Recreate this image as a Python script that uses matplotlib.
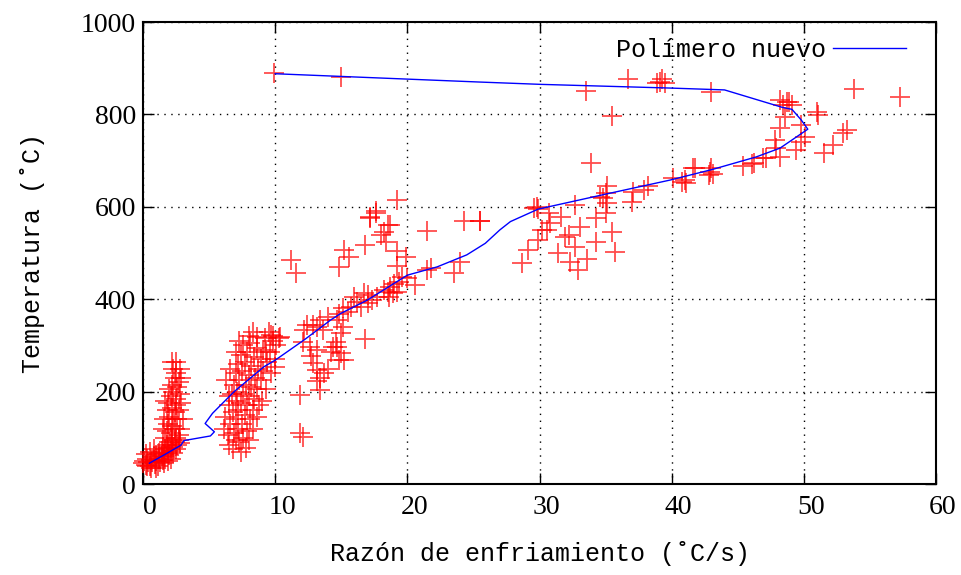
import numpy as np
import matplotlib
matplotlib.use('Agg')
import matplotlib.pyplot as plt
import matplotlib.transforms as mtransforms

# ── Datos ─────────────────────────────────────────────────────────────────────
# curva del polimero nuevo (razon de enfriamiento, temperatura)
line_x = [0.48, 1.6, 2.87, 3.1, 5.1, 5.4, 4.7, 5.26, 6.9, 9.16, 10.0, 12.2, 14.2, 14.95,
          16.97, 20.0, 22.26, 24.5, 25.9, 27.0, 27.8, 29.9, 35.1, 39.9, 43.1, 46.4, 48.2,
          50.3, 49.8, 49.1, 48.4, 44.0, 39.9, 30.1, 25.5, 10.0]
line_y = [45, 63, 84, 94, 104, 113, 131, 153, 200, 254, 268, 312, 355, 369,
          398, 452, 470, 496, 521, 550, 568, 595, 628, 658, 681, 708, 727,
          768, 788, 811, 815, 853, 857, 865, 870, 888]

# mediciones (x, y)
low_band = [(0.0, 45), (0.1, 50), (0.2, 42), (0.3, 55), (0.4, 48), (0.5, 40), (0.6, 52),
            (0.7, 47), (0.8, 58), (0.9, 44), (1.0, 62), (1.0, 50), (1.1, 40), (1.2, 55),
            (1.2, 68), (1.3, 47), (1.4, 60), (1.4, 72), (1.5, 52), (1.5, 80), (1.6, 65),
            (1.6, 45), (1.7, 75), (1.7, 58), (1.8, 85), (1.8, 68), (1.9, 50), (1.9, 78),
            (2.0, 90), (2.0, 62), (2.1, 72), (2.1, 55), (2.2, 85), (2.2, 95), (2.3, 68),
            (2.3, 80), (2.4, 90), (2.5, 75), (2.5, 100), (2.6, 85), (2.7, 95), (2.8, 88),
            (0.2, 65), (0.5, 70), (0.8, 75), (0.3, 38), (0.6, 35), (1.0, 35)]
low_column = [(1.7, 100), (1.8, 115), (1.9, 130), (2.0, 145), (1.8, 160), (2.1, 110),
              (2.2, 125), (2.3, 140), (2.4, 155), (2.5, 170), (1.9, 175), (2.1, 190),
              (2.3, 200), (2.5, 185), (2.7, 160), (2.6, 140), (2.8, 120), (2.7, 105),
              (2.2, 215), (2.4, 230), (2.6, 210), (2.8, 195), (2.9, 175), (2.3, 250),
              (2.5, 240), (2.0, 205), (1.6, 140), (1.7, 180), (2.9, 230), (2.7, 220),
              (2.2, 165), (2.4, 118), (1.5, 120), (3.0, 140), (2.2, 265), (2.5, 265),
              (2.8, 250)]
cluster_8 = [(6.5, 85), (6.8, 75), (7.0, 95), (6.4, 105), (6.9, 110), (7.3, 90), (7.6, 100),
             (7.2, 120), (6.6, 130), (7.0, 140), (7.5, 130), (7.9, 115), (6.8, 155),
             (7.2, 160), (7.7, 150), (8.1, 140), (6.5, 170), (7.0, 180), (7.4, 175),
             (7.9, 170), (8.3, 160), (6.7, 195), (7.1, 200), (7.6, 195), (8.0, 190),
             (8.4, 185), (6.9, 215), (7.3, 225), (7.8, 215), (8.2, 210), (8.6, 205),
             (7.0, 240), (7.5, 245), (8.0, 235), (8.5, 230), (8.9, 225), (7.2, 260),
             (7.7, 265), (8.2, 255), (8.7, 250), (9.1, 245), (7.4, 280), (7.9, 285),
             (8.4, 275), (8.9, 270), (9.4, 265), (7.6, 300), (8.1, 305), (8.6, 295),
             (9.1, 290), (9.6, 285), (8.0, 320), (8.6, 318), (9.2, 315), (9.8, 310),
             (10.1, 300), (9.5, 330), (8.3, 330), (7.0, 285), (6.6, 250), (6.3, 225),
             (6.2, 145), (7.4, 70), (8.0, 95), (8.3, 120), (8.6, 145), (9.0, 180),
             (9.3, 205), (9.7, 240), (10.0, 270), (8.8, 170), (9.3, 285), (7.3, 310),
             (6.5, 190), (6.1, 120), (7.8, 78), (9.8, 320), (10.3, 315)]
band_mid = [(11.2, 485), (11.6, 457), (14.8, 470), (15.2, 506), (15.6, 492), (16.8, 517),
            (17.2, 575), (17.6, 590), (17.2, 579), (17.6, 587), (18.5, 561), (18.7, 561),
            (18.2, 546), (18.0, 539), (18.4, 524), (19.2, 615), (21.5, 548), (24.3, 569),
            (25.5, 569), (19.2, 505), (19.9, 492), (19.2, 472), (21.8, 467), (21.5, 463),
            (23.5, 456), (24.0, 481), (20.6, 431), (20.0, 445), (19.6, 449), (19.4, 438),
            (19.0, 433), (18.7, 427), (19.2, 416), (18.9, 413), (18.6, 405), (18.5, 416),
            (18.2, 420), (17.7, 405), (17.3, 398), (17.0, 409), (16.7, 413), (17.0, 391),
            (16.5, 384), (16.2, 395), (16.0, 405), (15.7, 384), (15.5, 373), (15.1, 380),
            (14.8, 369), (16.8, 314), (14.7, 355), (15.1, 340), (15.0, 326), (14.6, 308),
            (14.7, 297), (15.0, 283), (15.2, 268), (14.8, 268), (14.0, 362), (13.4, 355),
            (13.2, 340), (12.9, 344), (13.6, 333), (12.4, 344), (12.2, 333), (12.1, 308),
            (12.6, 297), (13.2, 290), (12.7, 276), (12.9, 261), (13.2, 247), (13.4, 229),
            (13.7, 240), (14.0, 250), (14.2, 286), (14.4, 297), (13.4, 203), (13.2, 222),
            (11.9, 193), (10.4, 319), (9.7, 323), (10.0, 254), (11.9, 110), (12.1, 102)]
band_high = [(25.5, 570), (29.9, 595), (29.6, 597), (29.8, 600), (30.7, 586), (31.6, 579),
             (30.8, 564), (30.6, 550), (30.2, 550), (29.9, 528), (29.1, 506), (28.7, 478),
             (31.4, 499), (32.3, 481), (32.9, 463), (33.6, 488), (32.2, 539), (31.9, 535),
             (32.7, 514), (33.1, 557), (34.3, 575), (34.3, 524), (35.5, 545), (35.7, 503),
             (32.7, 604), (34.6, 622), (35.1, 644), (35.0, 629), (34.8, 618), (35.1, 608),
             (35.0, 586), (37.1, 633), (37.0, 611), (37.9, 636), (38.2, 644), (40.1, 662),
             (41.0, 658), (41.1, 651), (40.8, 654), (33.9, 695), (35.5, 797), (33.5, 851),
             (36.7, 876), (39.1, 870), (38.9, 867), (39.5, 867), (39.3, 876), (9.9, 889),
             (15.0, 880)]
top_right = [(41.6, 683), (42.9, 676), (42.8, 669), (43.1, 672), (41.8, 683), (43.0, 683),
             (45.4, 688), (46.2, 694), (46.1, 693), (46.9, 705), (47.1, 705), (48.2, 708),
             (47.9, 727), (47.8, 745), (49.4, 723), (49.8, 741), (50.1, 752), (49.8, 777),
             (48.2, 770), (48.6, 795), (51.1, 799), (51.0, 806), (48.4, 820), (49.1, 820),
             (48.9, 827), (48.7, 827), (48.2, 831), (43.0, 849), (53.8, 856), (57.3, 838),
             (53.3, 766), (53.0, 759), (52.2, 734), (51.5, 716)]

x_ticks = [0, 10, 20, 30, 40, 50, 60]
y_ticks = [0, 200, 400, 600, 800, 1000]

MONO = ['Liberation Mono', 'DejaVu Sans Mono']
plt.rcParams['font.family'] = ['Liberation Serif', 'DejaVu Serif']

# ── Figura ────────────────────────────────────────────────────────────────────
fig = plt.figure(figsize=(9.62, 5.75), dpi=100)
ax = fig.add_axes([143 / 962, 91 / 575, 793 / 962, 462 / 575])

pts = np.array(low_band + low_column + cluster_8 + band_mid + band_high + top_right)
ax.plot(pts[:, 0], pts[:, 1], linestyle='none', marker='+', ms=14, mew=1.3,
        color='red', alpha=0.7, clip_on=False, zorder=3)
ax.plot(line_x, line_y, color='blue', lw=1.0, label='Polímero nuevo', zorder=4)

ax.set_xlim(0, 60)
ax.set_ylim(0, 1000)
ax.set_xticks(x_ticks)
ax.set_yticks(y_ticks)
ax.tick_params(direction='in', top=True, right=True, length=8, width=1,
               labelsize=20, pad=8)
ax.tick_params(axis='y', pad=5)
ax.grid(True, color='black', linestyle=(0, (1, 4)), lw=1.0)
for s in ax.spines.values():
    s.set_linewidth(1.5)

# etiquetas del eje x un poco a la derecha, como en gnuplot
shift = mtransforms.ScaledTranslation(0.07, 0, fig.dpi_scale_trans)
for lab in ax.get_xticklabels():
    lab.set_transform(lab.get_transform() + shift)

ax.set_xlabel('Razón de enfriamiento (˚C/s)', family=MONO, fontsize=18, labelpad=15)
ax.set_ylabel('Temperatura (˚C)', family=MONO, fontsize=18, labelpad=26)

ax.legend(loc='upper right', bbox_to_anchor=(0.99, 1.015), frameon=False,
          markerfirst=False, handlelength=2.9, handletextpad=0.3,
          prop={'family': MONO, 'size': 18})

plt.savefig('out.png', dpi=100)
